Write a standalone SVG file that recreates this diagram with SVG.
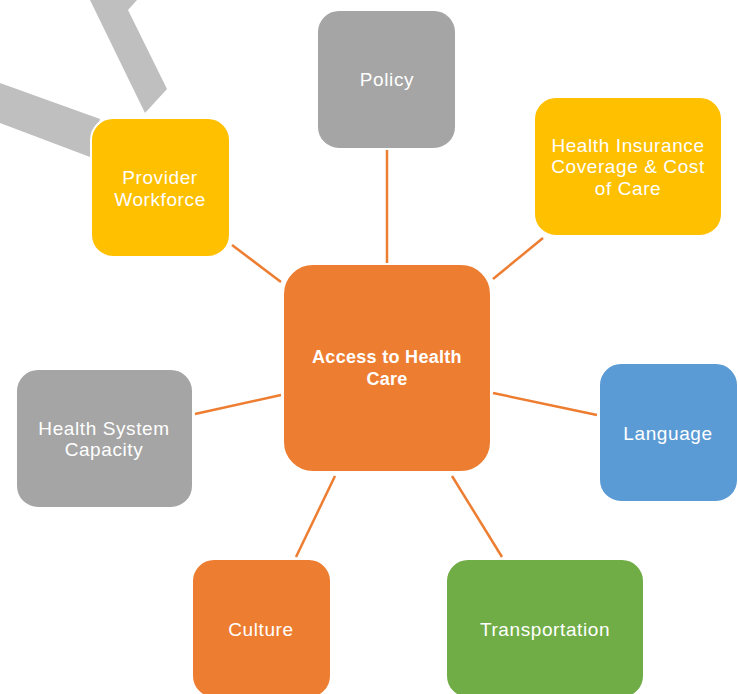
<svg xmlns="http://www.w3.org/2000/svg" width="738" height="694" viewBox="0 0 738 694">
<style>
.box{stroke:#fff;stroke-width:2}
.t{font-family:"Liberation Sans",Arial,sans-serif;font-size:19px;letter-spacing:0.6px;fill:#fff;text-anchor:middle;dominant-baseline:central}
.b{font-weight:bold;font-size:18px;letter-spacing:0.3px}
.c{stroke:#ED7D31;stroke-width:2.5;fill:none}
</style>
<rect width="738" height="694" fill="#fff"/>
<g id="deco" fill="#BFBFBF">
<polygon points="90,0 137,0 128,10 167,89 145,113"/>
<polygon points="0,83 100,119 90,157 0,123"/>
</g>
<g id="connectors">
<line class="c" x1="387" y1="150" x2="387" y2="263"/>
<line class="c" x1="543" y1="238" x2="493" y2="279"/>
<line class="c" x1="232" y1="245" x2="281" y2="282"/>
<line class="c" x1="195" y1="414" x2="281" y2="395"/>
<line class="c" x1="493" y1="393" x2="597" y2="415"/>
<line class="c" x1="335" y1="476" x2="296" y2="557"/>
<line class="c" x1="452" y1="476" x2="502" y2="557"/>
</g>
<g id="policy"><rect class="box" x="317" y="10" width="139" height="139" rx="22" fill="#A5A5A5"/><text class="t" x="387" y="79">Policy</text></g>
<g id="insurance"><rect class="box" x="534" y="97" width="188" height="139" rx="22" fill="#FFC000"/><text class="t" x="628" y="145">Health Insurance</text><text class="t" x="628" y="166">Coverage &amp; Cost</text><text class="t" x="628" y="188">of Care</text></g>
<g id="provider"><rect class="box" x="91" y="118" width="139" height="139" rx="22" fill="#FFC000"/><text class="t" x="160" y="177">Provider</text><text class="t" x="160" y="199">Workforce</text></g>
<g id="center"><rect class="box" x="283" y="264" width="208" height="208" rx="30" fill="#ED7D31"/><text class="t b" x="387" y="357">Access to Health</text><text class="t b" x="387" y="379">Care</text></g>
<g id="capacity"><rect class="box" x="16" y="369" width="177" height="139" rx="22" fill="#A5A5A5"/><text class="t" x="104" y="428">Health System</text><text class="t" x="104" y="449">Capacity</text></g>
<g id="language"><rect class="box" x="599" y="363" width="139" height="139" rx="22" fill="#5B9BD5"/><text class="t" x="668" y="433">Language</text></g>
<g id="culture"><rect class="box" x="192" y="559" width="139" height="139" rx="22" fill="#ED7D31"/><text class="t" x="261" y="629">Culture</text></g>
<g id="transportation"><rect class="box" x="446" y="559" width="198" height="139" rx="22" fill="#70AD47"/><text class="t" x="545" y="629">Transportation</text></g>
</svg>
